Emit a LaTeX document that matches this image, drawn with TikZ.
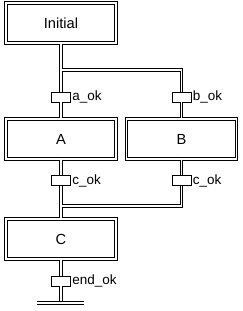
\documentclass[tikz,border=0pt]{standalone}
\usepackage{fontspec}
\setmainfont{Liberation Sans}
\tikzset{
  step box/.style={draw, double, line width=0.9pt, double distance=1pt, fill=white,
    minimum width=3.3cm, minimum height=1.2cm, inner sep=0pt, font=\fontsize{12.5}{14}\selectfont},
  trans box/.style={draw, line width=0.7pt, fill=white, minimum width=0.57cm,
    minimum height=0.3cm, inner sep=0pt},
  trans label/.style={right, inner sep=1pt, font=\fontsize{11.5}{13}\selectfont},
  link/.style={draw, double, line width=0.9pt, double distance=1pt},
}
\begin{document}
\begin{tikzpicture}[x=0.03cm, y=-0.03cm]
	\useasboundingbox (0,0) rectangle (242,311);
	
	\node[step box] (init) at (61,23) {Initial};
	\node[step box] (A) at (61,139) {A};
	\node[step box] (B) at (181.5,139) {B};
	\node[step box] (C) at (61,239) {C};
	
	\node[trans box] (ta) at (61,97) {};
	\node[trans box] (tb) at (181.5,97) {};
	\node[trans box] (tca) at (61,180.5) {};
	\node[trans box] (tcb) at (181.5,180.5) {};
	\node[trans box] (tend) at (61,281) {};
	
	\coordinate (fork) at (61,70);
	\coordinate (join) at (61,206);
	\coordinate (barL) at (37,303);
	\coordinate (barR) at (84,303);
	
	\draw[link] (init.south) -- (ta.north);
	\draw[link] (ta.south) -- (A.north);
	\draw[link] ([xshift=0.5pt]fork) -| (tb.north);
	\draw[link] (tb.south) -- (B.north);
	
	\draw[link] (A.south) -- (tca.north);
	\draw[link] (tca.south) -- (C.north);
	\draw[link] (B.south) -- (tcb.north);
	\draw[link] (tcb.south) |- ([xshift=0.5pt]join);
	
	\draw[link] (C.south) -- (tend.north);
	\draw[link] (tend.south) -- (tend.south |- barL);
	\draw[link] (barL) -- (barR);
	
	\node[trans label] at (ta.east) {a\_ok};
	\node[trans label] at (tb.east) {b\_ok};
	\node[trans label] at (tca.east) {c\_ok};
	\node[trans label] at (tcb.east) {c\_ok};
	\node[trans label] at (tend.east) {end\_ok};
\end{tikzpicture}
\end{document}
